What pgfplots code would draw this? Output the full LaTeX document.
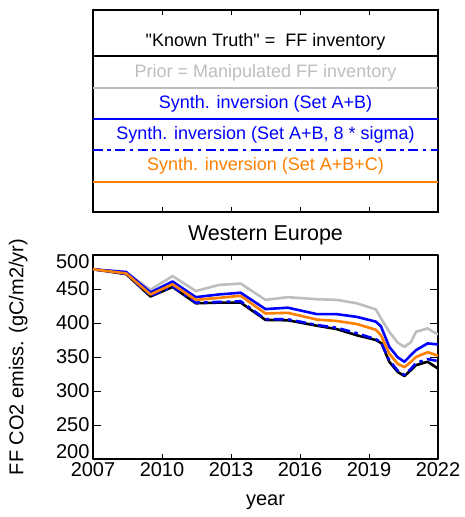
\documentclass[border=0pt]{standalone}
\usepackage{fontspec}
\setmainfont{Liberation Sans}[Ligatures=TeXOff]
\usepackage{pgfplots}
\pgfplotsset{compat=1.18}
\definecolor{myorange}{RGB}{255,127,0}
\definecolor{mygray}{RGB}{190,190,190}
\definecolor{myblue}{RGB}{0,0,255}
\begin{document}
\begin{tikzpicture}
\path[use as bounding box] (-93pt,-58pt) rectangle (371pt,459pt);
% legend box
\begin{axis}[at={(0pt,247pt)}, anchor=south west, scale only axis,
  width=345pt, height=202pt, xmin=2007, xmax=2022, ymin=0, ymax=202,
  xtick=\empty, minor xtick={2008,2009,...,2021}, xticklabels={},
  extra x ticks={2010,2013,2016,2019}, extra x tick labels={},
  extra x tick style={major tick length=5pt},
  ytick=\empty, tick align=inside, major tick length=8pt, minor tick length=2.5pt,
  axis line style={line width=1.1pt}, tick style={line width=0.8pt, black},
  clip=true]
\addplot[black, line width=2.6pt] coordinates {(2007,156) (2022,156)};
\addplot[mygray, line width=2.6pt] coordinates {(2007,124) (2022,124)};
\addplot[myblue, line width=2.6pt] coordinates {(2007,93) (2022,93)};
\addplot[myblue, line width=2.6pt, dash pattern=on 10pt off 4.5pt on 3.5pt off 4.5pt] coordinates {(2007,62) (2022,62)};
\addplot[myorange, line width=2.6pt] coordinates {(2007,30) (2022,30)};
\node[black, font=\fontsize{18}{20}\selectfont] at (axis cs:2014.5,170) {"Known Truth" =\ \ FF inventory};
\node[mygray, font=\fontsize{18}{20}\selectfont] at (axis cs:2014.5,139) {Prior = Manipulated FF inventory};
\node[myblue, font=\fontsize{18}{20}\selectfont] at (axis cs:2014.5,108) {Synth. inversion (Set A+B)};
\node[myblue, font=\fontsize{18}{20}\selectfont] at (axis cs:2014.5,77) {Synth. inversion (Set A+B, 8 * sigma)};
\node[myorange, font=\fontsize{18}{20}\selectfont] at (axis cs:2014.5,46) {Synth. inversion (Set A+B+C)};
\end{axis}
% main plot
\begin{axis}[at={(0pt,0pt)}, anchor=south west, scale only axis,
  width=345pt, height=204pt, xmin=2007, xmax=2022, ymin=200, ymax=500,
  xtick=\empty, minor xtick={2008,2009,...,2021},
  extra x ticks={2007,2010,2013,2016,2019,2022},
  extra x tick labels={2007,2010,2013,2016,2019,2022},
  extra x tick style={major tick length=5pt},
  ytick={200,250,...,500},
  yticklabels={\raisebox{7pt}[\height][\depth]{200},250,300,350,400,450,\raisebox{-7pt}[\height][\depth]{500}},
  tick align=inside, major tick length=8pt, minor tick length=2.5pt,
  axis line style={line width=1.1pt}, tick style={line width=0.8pt, black},
  xticklabel style={font=\fontsize{20}{24}\selectfont},
  yticklabel style={font=\fontsize{20}{24}\selectfont},
  title={Western Europe},
  title style={font=\fontsize{21.5}{24}\selectfont, at={(axis description cs:0.5,1)}, anchor=base, yshift=8.5pt},
  xlabel={year},
  xlabel style={font=\fontsize{20}{24}\selectfont, at={(axis description cs:0.5,0)}, anchor=base, yshift=-46pt},
  ylabel={FF CO2 emiss. (gC/m2/yr)},
  ylabel style={font=\fontsize{20}{24}\selectfont, at={(axis description cs:-0.217,0.5)}, anchor=center, rotate=0},
  line join=round]
\addplot[black, line width=2.6pt] coordinates {(2007,479) (2008.44,472) (2009.5,439) (2010.46,453) (2011.47,429) (2012.48,430) (2013.42,430) (2014.5,404.5) (2015.47,404) (2016.74,396) (2017.6,391) (2018.47,382) (2019.3,375) (2019.55,370) (2019.88,343) (2020.25,328) (2020.54,322) (2020.83,331) (2021.04,338) (2021.55,343) (2022,333)};
\addplot[mygray, line width=2.6pt] coordinates {(2007,479) (2008.44,474) (2009.5,449) (2010.46,469) (2011.47,447) (2012.48,456) (2013.42,458) (2014.5,434) (2015.47,438) (2016.74,435) (2017.6,434) (2018.47,429) (2019.3,420) (2019.52,407) (2019.88,387) (2020.25,371) (2020.54,365) (2020.83,372) (2021.04,387) (2021.55,392) (2022,383)};
\addplot[myblue, line width=2.6pt] coordinates {(2007,479) (2008.44,475) (2009.5,445) (2010.46,461) (2011.47,438) (2012.48,442) (2013.42,444.5) (2014.5,420.5) (2015.47,422.5) (2016.74,413) (2017.6,413) (2018.47,409) (2019.3,402) (2019.52,395) (2019.88,365) (2020.25,349.5) (2020.54,343) (2020.83,353) (2021.04,360) (2021.55,370) (2022,368.5)};
\addplot[myblue, line width=2.6pt, dash pattern=on 10pt off 4.5pt on 3.5pt off 4.5pt] coordinates {(2007,479) (2008.44,472.5) (2009.5,440) (2010.46,454) (2011.47,430) (2012.48,431) (2013.42,432) (2014.5,405.5) (2015.47,405.5) (2016.74,397) (2017.6,393) (2018.47,385) (2019.3,376) (2019.52,372) (2019.88,345) (2020.25,330) (2020.54,323.5) (2020.83,333) (2021.04,341) (2021.55,347) (2022,344)};
\addplot[myorange, line width=2.6pt] coordinates {(2007,479) (2008.44,473) (2009.5,442) (2010.46,457) (2011.47,434) (2012.48,437) (2013.42,440) (2014.5,414) (2015.47,415) (2016.74,405) (2017.6,403) (2018.47,398.5) (2019.3,390) (2019.52,382) (2019.88,355) (2020.25,340) (2020.54,335) (2020.83,343) (2021.04,350) (2021.55,357) (2022,352)};
\end{axis}
\end{tikzpicture}
\end{document}
